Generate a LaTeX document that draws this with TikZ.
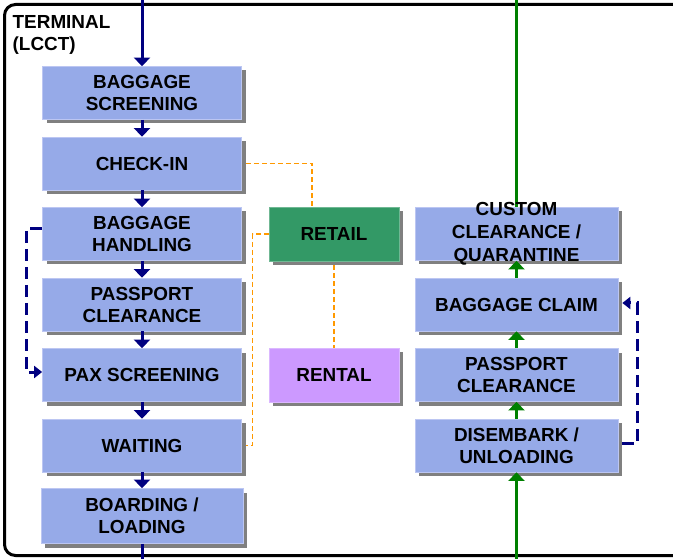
\documentclass[tikz,border=0pt]{standalone}
\usepackage{fontspec}
\setmainfont{Liberation Sans}
\usetikzlibrary{arrows.meta,shadows}
\definecolor{boxblue}{RGB}{150,170,232}
\definecolor{boxedge}{RGB}{188,198,242}
\definecolor{shadowgray}{RGB}{128,128,128}
\definecolor{retailgreen}{RGB}{51,153,102}
\definecolor{rentalpurple}{RGB}{204,153,255}
\definecolor{navyline}{RGB}{0,0,128}
\definecolor{greenline}{RGB}{0,128,0}
\definecolor{orangeline}{RGB}{255,153,0}
\begin{document}
\begin{tikzpicture}[x=1pt,y=-1pt,
  lbl/.style={font=\bfseries\fontsize{18.9}{22}\selectfont, align=center},
  proc/.style={lbl, rectangle, fill=boxblue, draw=boxedge, line width=0.7pt,
    minimum width=199pt, minimum height=53pt, inner sep=0pt,
    drop shadow={fill=shadowgray, opacity=1, shadow xshift=4pt, shadow yshift=-4pt}},
  flow/.style={draw=navyline, line width=3pt, -{Triangle[width=16pt,length=8.5pt]}},
  inflow/.style={draw=greenline, line width=3pt, -{Triangle[width=16pt,length=8.5pt]}},
  loopback/.style={draw=navyline, line width=3pt, dash pattern=on 12pt off 6pt,
    -{Triangle[width=12pt,length=8pt]}},
  service/.style={draw=orangeline, line width=1.5pt, dash pattern=on 5pt off 3pt}
]
\useasboundingbox (0,0) rectangle (673,559);
\clip (0,0) rectangle (673,559);

% terminal frame
\draw[line width=3pt, rounded corners=11pt] (4.5,4.5) rectangle (700,555.5);
\node[lbl, align=left, anchor=north west, inner sep=0pt] (term) at (12.5,15.5) {TERMINAL\\(LCCT)};

% departure chain
\node[proc] (bs) at (142,93)    {BAGGAGE\\SCREENING};
\node[proc] (ci) at (142,163.5) {CHECK-IN};
\node[proc] (bh) at (142,234)   {BAGGAGE\\HANDLING};
\node[proc] (pc) at (142,304.5) {PASSPORT\\CLEARANCE};
\node[proc] (ps) at (142,375)   {PAX SCREENING};
\node[proc] (wt) at (142,445.5) {WAITING};
\node[proc, minimum width=202pt, minimum height=55pt] (bl) at (142,516) {BOARDING /\\LOADING};

% commercial areas
\node[proc, fill=retailgreen, draw=retailgreen!70!white, minimum width=130pt, minimum height=54pt] (retail) at (334,234) {RETAIL};
\node[proc, fill=rentalpurple, draw=rentalpurple!70!white, minimum width=130pt, minimum height=54pt] (rental) at (334,375) {RENTAL};

% arrival chain
\node[proc, minimum width=203pt] (cq) at (516.5,234) {};
\node[proc, minimum width=203pt] (bc) at (516.5,304.5) {BAGGAGE CLAIM};
\node[proc, minimum width=203pt] (pa) at (516.5,375) {PASSPORT\\CLEARANCE};
\node[proc, minimum width=203pt] (du) at (516.5,445.5) {DISEMBARK /\\UNLOADING};

% departure connectors
\coordinate (depin) at (142,0);
\coordinate (depout) at (142,559);
\draw[flow] (depin) -- (bs.north);
\draw[flow] (bs.south) -- (ci.north);
\draw[flow] (ci.south) -- (bh.north);
\draw[flow] (bh.south) -- (pc.north);
\draw[flow] (pc.south) -- (ps.north);
\draw[flow] (ps.south) -- (wt.north);
\draw[flow] (wt.south) -- (bl.north);
\draw[draw=navyline, line width=3pt] (bl.south) -- (depout);
\draw[loopback] ([yshift=5pt]bh.west) -- ++(-16,0) |- ([yshift=3pt]ps.west);

% arrival connectors
\coordinate (arrin) at (516.5,559);
\coordinate (arrout) at (516.5,0);
\draw[draw=greenline, line width=3pt] (arrout) -- (cq.north);
\draw[inflow] (arrin) -- (du.south);
\draw[inflow] (du.north) -- (pa.south);
\draw[inflow] (pa.north) -- (bc.south);
\draw[inflow] (bc.north) -- (cq.south);
\draw[loopback] ([xshift=4pt,yshift=2pt]du.east) -- ++(15,0) |- ([xshift=4pt,yshift=1.5pt]bc.east);

% service links to retail and rental
\draw[service] ([xshift=4pt]ci.east) -| ([xshift=-22pt]retail.north);
\draw[service] (retail.west) -- ++(-16,0) |- ([xshift=4pt]wt.east);
\draw[service] ([yshift=-4pt]retail.south) -- (rental.north);

% label that runs past its box
\node[lbl, font=\bfseries\fontsize{18.9}{22.8}\selectfont] (cqtext) at (516.5,233.5) {CUSTOM\\CLEARANCE /\\QUARANTINE};
\end{tikzpicture}
\end{document}
